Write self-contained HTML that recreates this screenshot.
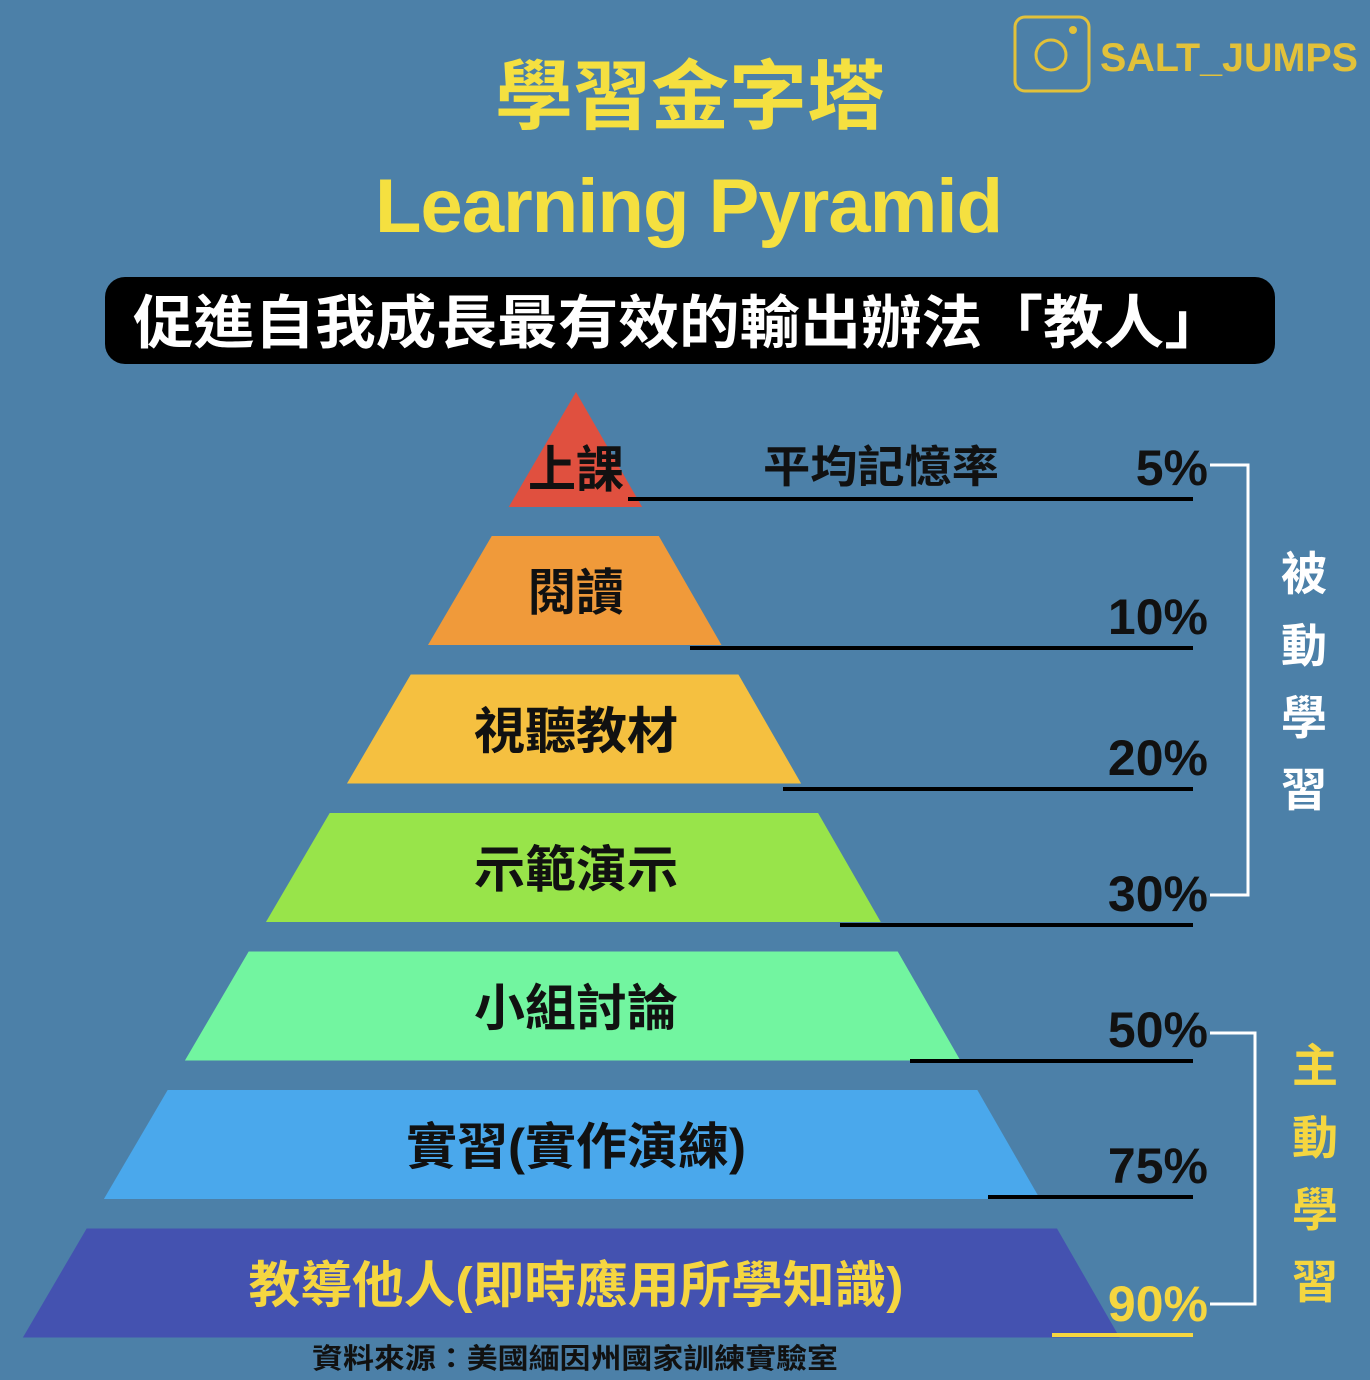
<!DOCTYPE html>
<html><head><meta charset="utf-8"><style>
html,body{margin:0;padding:0;background:#4c80a8;}
svg{display:block;font-family:"Liberation Sans","Noto Sans CJK TC",sans-serif;}
</style></head><body>
<svg id="chart" width="1370" height="1380" viewBox="0 0 1370 1380">
<rect width="1370" height="1380" fill="#4c80a8"/>
<g>
<rect x="1015" y="17" width="74" height="74" rx="10" fill="none" stroke="#e2c13a" stroke-width="3"/>
<circle cx="1051" cy="55" r="15" fill="none" stroke="#e2c13a" stroke-width="3"/>
<circle cx="1073" cy="30" r="4" fill="#e2c13a"/>
</g>
<text x="1100" y="71" font-size="40" font-weight="bold" fill="#e2c13a" textLength="258" lengthAdjust="spacingAndGlyphs">SALT_JUMPS</text>
<text x="495" y="123" font-size="76" font-weight="bold" fill="#f5e040" textLength="390" lengthAdjust="spacingAndGlyphs">學習金字塔</text>
<text x="375" y="232" font-size="76" font-weight="bold" fill="#f5e040" textLength="628" lengthAdjust="spacing">Learning  Pyramid</text>
<rect x="105" y="277" width="1170" height="87" rx="20" fill="#000"/>
<text x="133" y="343" font-size="58" font-weight="bold" fill="#fff" textLength="1092" lengthAdjust="spacingAndGlyphs">促進自我成長最有效的輸出辦法「教人」</text>
<g id="layers"></g>
<text x="763" y="482" font-size="44" font-weight="bold" fill="#111" textLength="236" lengthAdjust="spacingAndGlyphs">平均記憶率</text>
<path d="M1210 465 H1248 V895 H1210" fill="none" stroke="#fff" stroke-width="3"/>
<path d="M1210 1033 H1255 V1304 H1210" fill="none" stroke="#fff" stroke-width="3"/>
<text font-size="46" font-weight="bold" fill="#fff" text-anchor="middle">
<tspan x="1304" y="590">被</tspan><tspan x="1304" y="662">動</tspan><tspan x="1304" y="734">學</tspan><tspan x="1304" y="806">習</tspan></text>
<text font-size="46" font-weight="bold" fill="#f5d640" text-anchor="middle">
<tspan x="1315" y="1082">主</tspan><tspan x="1315" y="1154">動</tspan><tspan x="1315" y="1226">學</tspan><tspan x="1315" y="1298">習</tspan></text>
<text x="312" y="1368" font-size="28" font-weight="bold" fill="#111" textLength="526" lengthAdjust="spacingAndGlyphs">資料來源：美國緬因州國家訓練實驗室</text>
</svg>
<script>
const labels=["上課","閱讀","視聽教材","示範演示","小組討論","實習(實作演練)","教導他人(即時應用所學知識)"];
const percents=[5,10,20,30,50,75,90];
const colors=["#e0503f","#f09a3a","#f5c040","#98e44a","#72f5a0","#4aa8ec","#4452b0"];
const labelWidths=[96,96,204,204,204,340,655];
const NS="http://www.w3.org/2000/svg";
const g=document.getElementById("layers");
const cx=576, topY=392, sl=0.585, sr=0.575;
const lineStarts=[628,690,783,840,910,988,1052];
const lineYs=[499,648,789,925,1061,1197,1335];
function mk(t,a){const e=document.createElementNS(NS,t);for(const k in a)e.setAttribute(k,a[k]);g.appendChild(e);return e;}
labels.forEach((lab,i)=>{
  let pts;
  if(i===0){
    pts=`${cx},${topY} ${cx+115*sr},507 ${cx-115*sl},507`;
  } else {
    const ty=536+(i-1)*138.5, by=ty+109;
    const wt=ty-topY, wb=by-topY;
    pts=`${cx-wt*sl},${ty} ${cx+wt*sr},${ty} ${cx+wb*sr},${by} ${cx-wb*sl},${by}`;
  }
  const p=mk("polygon",{points:pts,fill:colors[i]});
  
  
  const ly=i===0?487:536+(i-1)*138.5+74;
  const tx=mk("text",{x:576-labelWidths[i]/2,y:ly,"font-size":50,"font-weight":"bold",fill:i===6?"#f5d640":"#111",textLength:labelWidths[i],lengthAdjust:"spacingAndGlyphs"});
  tx.textContent=lab;
  
  
  const ln=mk("line",{x1:lineStarts[i],x2:1193,y1:lineYs[i],y2:lineYs[i],stroke:i===6?"#f5d640":"#000","stroke-width":4});
  
  
  const pt=mk("text",{x:1208,y:lineYs[i]-14,"text-anchor":"end","font-size":50,"font-weight":"bold",fill:i===6?"#f5d640":"#111"});
  pt.textContent=percents[i]+"%";
  
  
});
</script>
</body></html>
